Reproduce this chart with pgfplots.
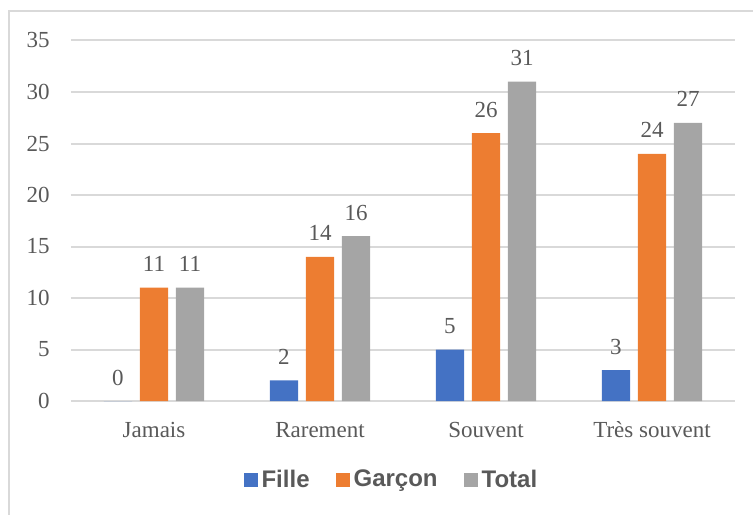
\documentclass[border=0pt]{standalone}
\usepackage{fontspec}
\setmainfont{Liberation Serif}
\newfontfamily\arialfont{Liberation Sans}
\usepackage{pgfplots}
\pgfplotsset{compat=1.18}
\definecolor{cBlue}{HTML}{4472C4}
\definecolor{cOrange}{HTML}{ED7D31}
\definecolor{cGray}{HTML}{A5A5A5}
\definecolor{cGrid}{HTML}{D9D9D9}
\definecolor{cText}{HTML}{595959}
\begin{document}
\begin{tikzpicture}
\useasboundingbox (-35.5pt,-56.5pt) rectangle (341pt,200.5pt);
\draw[cGrid, line width=1pt] (-31pt,-60pt) -- (-31pt,195pt) -- (345pt,195pt);
\begin{axis}[
  at={(0pt,0pt)}, anchor=south west,
  scale only axis, width=332pt, height=180.25pt,
  xmin=-0.5, xmax=3.5, ymin=0, ymax=35,
  ytick={0,5,...,35},
  xtick={0,1,2,3},
  xticklabels={Jamais,Rarement,Souvent,Très souvent},
  axis line style={draw=none},
  axis x line*=bottom,
  x axis line style={draw=cGrid, line width=1pt},
  ymajorgrids, grid style={cGrid, line width=1pt},
  major tick length=0pt,
  /pgf/number format/assume math mode=true,
  tick label style={font=\fontsize{11.5}{13}\selectfont, text=cText},
  yticklabel style={anchor=east, inner sep=0pt, xshift=-10.5pt},
  xticklabel style={anchor=base, inner sep=0pt, yshift=-18pt},
  ybar, bar width=0.169,
  nodes near coords,
  every node near coord/.append style={font=\fontsize{11.5}{13}\selectfont, text=cText, anchor=base, inner sep=0pt, yshift=8pt},
  legend columns=-1,
  legend style={at={(0.484,-0.219)}, anchor=center, draw=none, fill=none,
    font=\arialfont\bfseries\fontsize{12}{14}\selectfont, text=cText,
    /tikz/every even column/.append style={column sep=11pt},
    inner sep=0pt},
  legend image code/.code={\fill[#1] (0pt,-3.5pt) rectangle (7pt,3.5pt);},
  legend cell align=left,
]
\addplot[fill=cBlue, draw=none, bar shift=-0.217] coordinates {(0,0) (1,2) (2,5) (3,3)};
\addplot[fill=cOrange, draw=none, bar shift=0] coordinates {(0,11) (1,14) (2,26) (3,24)};
\addplot[fill=cGray, draw=none, bar shift=0.217] coordinates {(0,11) (1,16) (2,31) (3,27)};
\legend{Fille,Garçon,Total}
\end{axis}
\end{tikzpicture}
\end{document}
